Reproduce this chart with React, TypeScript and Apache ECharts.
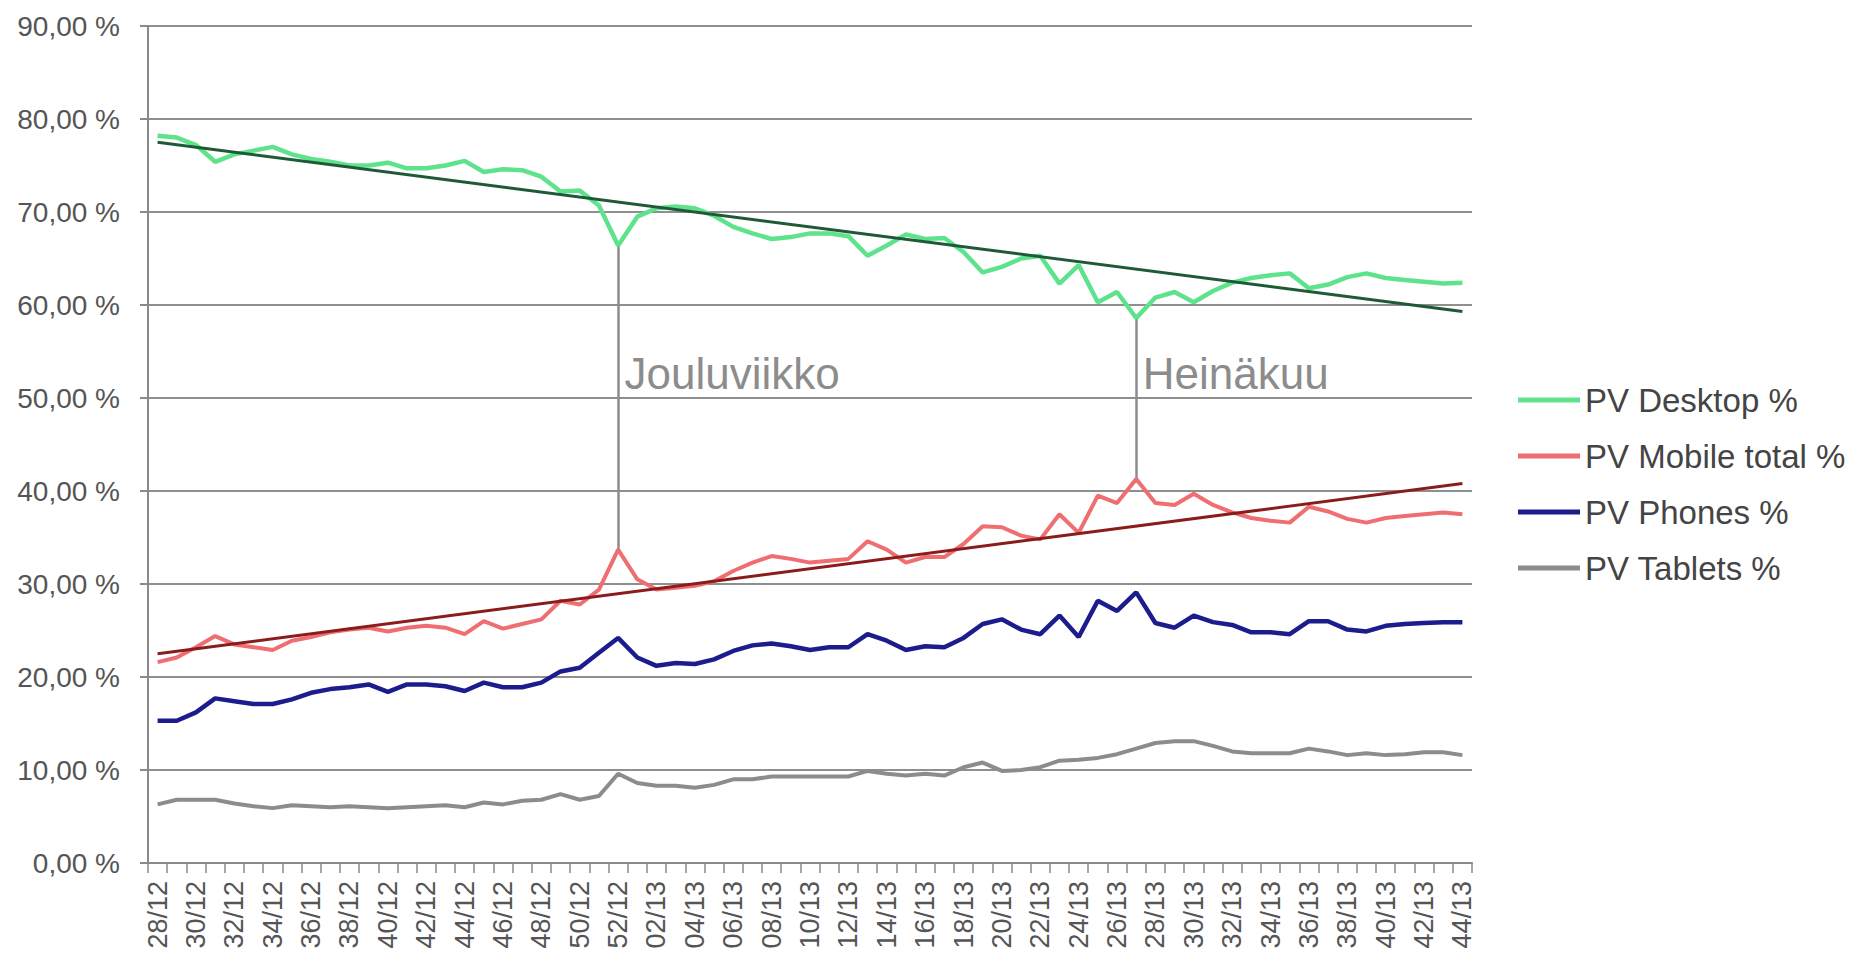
import React, { useEffect, useRef } from "react";
import * as echarts from "echarts";

const weeks: string[] = [
  "28/12", "29/12", "30/12", "31/12", "32/12", "33/12", "34/12", "35/12", "36/12", "37/12",
  "38/12", "39/12", "40/12", "41/12", "42/12", "43/12", "44/12", "45/12", "46/12", "47/12",
  "48/12", "49/12", "50/12", "51/12", "52/12",
  "01/13", "02/13", "03/13", "04/13", "05/13", "06/13", "07/13", "08/13", "09/13", "10/13",
  "11/13", "12/13", "13/13", "14/13", "15/13", "16/13", "17/13", "18/13", "19/13", "20/13",
  "21/13", "22/13", "23/13", "24/13", "25/13", "26/13", "27/13", "28/13", "29/13", "30/13",
  "31/13", "32/13", "33/13", "34/13", "35/13", "36/13", "37/13", "38/13", "39/13", "40/13",
  "41/13", "42/13", "43/13", "44/13",
];

const desktop: number[] = [
  78.2, 78.0, 77.2, 75.4, 76.2, 76.6, 77.0, 76.2, 75.7, 75.4,
  75.0, 75.0, 75.3, 74.7, 74.7, 75.0, 75.5, 74.3, 74.6, 74.5,
  73.8, 72.2, 72.3, 70.7, 66.4,
  69.5, 70.4, 70.6, 70.4, 69.6, 68.4, 67.7, 67.1, 67.3, 67.7,
  67.7, 67.4, 65.3, 66.4, 67.6, 67.1, 67.2, 65.7, 63.5, 64.1,
  65.0, 65.3, 62.3, 64.3, 60.3, 61.4, 58.6, 60.8, 61.4, 60.3,
  61.5, 62.4, 62.9, 63.2, 63.4, 61.8, 62.2, 63.0, 63.4, 62.9,
  62.7, 62.5, 62.3, 62.4,
];

const mobileTotal: number[] = [
  21.6, 22.1, 23.2, 24.4, 23.5, 23.2, 22.9, 23.9, 24.3, 24.8,
  25.1, 25.3, 24.9, 25.3, 25.5, 25.3, 24.6, 26.0, 25.2, 25.7,
  26.2, 28.2, 27.8, 29.4, 33.7,
  30.5, 29.4, 29.6, 29.8, 30.3, 31.4, 32.3, 33.0, 32.7, 32.3,
  32.5, 32.7, 34.6, 33.7, 32.3, 32.9, 32.9, 34.3, 36.2, 36.1,
  35.2, 34.8, 37.5, 35.5, 39.5, 38.7, 41.3, 38.7, 38.5, 39.7,
  38.5, 37.7, 37.1, 36.8, 36.6, 38.3, 37.8, 37.0, 36.6, 37.1,
  37.3, 37.5, 37.7, 37.5,
];

const phones: number[] = [
  15.3, 15.3, 16.2, 17.7, 17.4, 17.1, 17.1, 17.6, 18.3, 18.7,
  18.9, 19.2, 18.4, 19.2, 19.2, 19.0, 18.5, 19.4, 18.9, 18.9,
  19.4, 20.6, 21.0, 22.6, 24.2,
  22.1, 21.2, 21.5, 21.4, 21.9, 22.8, 23.4, 23.6, 23.3, 22.9,
  23.2, 23.2, 24.6, 23.9, 22.9, 23.3, 23.2, 24.2, 25.7, 26.2,
  25.1, 24.6, 26.6, 24.3, 28.2, 27.1, 29.1, 25.8, 25.3, 26.6,
  25.9, 25.6, 24.8, 24.8, 24.6, 26.0, 26.0, 25.1, 24.9, 25.5,
  25.7, 25.8, 25.9, 25.9,
];

const tablets: number[] = [
  6.3, 6.8, 6.8, 6.8, 6.4, 6.1, 5.9, 6.2, 6.1, 6.0,
  6.1, 6.0, 5.9, 6.0, 6.1, 6.2, 6.0, 6.5, 6.3, 6.7,
  6.8, 7.4, 6.8, 7.2, 9.6,
  8.6, 8.3, 8.3, 8.1, 8.4, 9.0, 9.0, 9.3, 9.3, 9.3,
  9.3, 9.3, 9.9, 9.6, 9.4, 9.6, 9.4, 10.3, 10.8, 9.9,
  10.0, 10.3, 11.0, 11.1, 11.3, 11.7, 12.3, 12.9, 13.1, 13.1,
  12.6, 12.0, 11.8, 11.8, 11.8, 12.3, 12.0, 11.6, 11.8, 11.6,
  11.7, 11.9, 11.9, 11.6,
];

// trend lines: values at first and last week
const desktopTrend: number[] = [77.5, 59.3];
const mobileTrend: number[] = [22.5, 40.8];

// annotations: week and label text, label height on the value axis
const annotations = [
  { week: "52/12", label: "Jouluviikko", labelValue: 52.6 },
  { week: "27/13", label: "Heinäkuu", labelValue: 52.6 },
];

const seriesNames = ["PV Desktop %", "PV Mobile total %", "PV Phones %", "PV Tablets %"];
const seriesColors = ["#5ee38c", "#ee6e72", "#1c1c8c", "#8c8c8c"];

const FONT = "'Liberation Sans', Arial, sans-serif";

export default function App() {
  const ref = useRef<HTMLDivElement>(null);

  useEffect(() => {
    document.body.style.margin = "0";
    if (!ref.current) return;
    const chart = echarts.init(ref.current, undefined, { renderer: "svg" });

    const first = weeks[0];
    const last = weeks[weeks.length - 1];

    const annLines = annotations.map((a) => {
      const idx = weeks.indexOf(a.week);
      return [
        { coord: [a.week, desktop[idx]] },
        { coord: [a.week, mobileTotal[idx]] },
      ];
    });
    const annPoints = annotations.map((a) => ({
      coord: [a.week, a.labelValue],
      label: { formatter: a.label },
    }));

    const option: any = {
      animation: false,
      backgroundColor: "#ffffff",
      grid: { left: 148, right: 387, top: 26, bottom: 94, containLabel: false },
      legend: {
        data: seriesNames,
        orient: "vertical",
        left: 1513,
        top: 377,
        icon: "rect",
        itemWidth: 62,
        itemHeight: 5,
        itemGap: 20,
        textStyle: { fontSize: 33, color: "#444", fontFamily: FONT, lineHeight: 36 },
      },
      xAxis: {
        type: "category",
        data: weeks,
        boundaryGap: true,
        axisLine: { show: true, lineStyle: { color: "#8a8a8a", width: 2 } },
        axisTick: { show: true, interval: 0, length: 10, lineStyle: { color: "#8a8a8a", width: 1.5 } },
        axisLabel: {
          interval: 1,
          rotate: 90,
          fontSize: 27,
          color: "#555",
          fontFamily: FONT,
          margin: 18,
        },
        splitLine: { show: false },
      },
      yAxis: {
        type: "value",
        min: 0,
        max: 90,
        interval: 10,
        axisLine: { show: true, lineStyle: { color: "#8a8a8a", width: 2 } },
        axisTick: { show: true, length: 8, lineStyle: { color: "#8a8a8a", width: 2 } },
        axisLabel: {
          fontSize: 28,
          color: "#555",
          fontFamily: FONT,
          margin: 28,
          formatter: (v: number) => v.toFixed(2).replace(".", ",") + " %",
        },
        splitLine: { show: true, lineStyle: { color: "#8f8f8f", width: 2 } },
      },
      series: [
        {
          name: seriesNames[0],
          type: "line",
          data: desktop,
          symbol: "none",
          lineStyle: { color: seriesColors[0], width: 4.5 },
          itemStyle: { color: seriesColors[0] },
          z: 3,
        },
        {
          name: seriesNames[1],
          type: "line",
          data: mobileTotal,
          symbol: "none",
          lineStyle: { color: seriesColors[1], width: 4 },
          itemStyle: { color: seriesColors[1] },
          z: 3,
          markLine: {
            silent: true,
            symbol: ["none", "none"],
            lineStyle: { color: "#8c8c8c", width: 2.5, type: "solid" },
            label: { show: false },
            data: annLines,
            z: 1,
          },
          markPoint: {
            silent: true,
            symbol: "circle",
            symbolSize: 1,
            itemStyle: { color: "rgba(0,0,0,0)" },
            label: {
              show: true,
              position: "right",
              distance: 6,
              fontSize: 44,
              color: "#8c8c8c",
              fontFamily: FONT,
            },
            data: annPoints,
          },
        },
        {
          name: seriesNames[2],
          type: "line",
          data: phones,
          symbol: "none",
          lineStyle: { color: seriesColors[2], width: 4.5 },
          itemStyle: { color: seriesColors[2] },
          z: 3,
        },
        {
          name: seriesNames[3],
          type: "line",
          data: tablets,
          symbol: "none",
          lineStyle: { color: seriesColors[3], width: 4 },
          itemStyle: { color: seriesColors[3] },
          z: 3,
        },
        {
          name: "Desktop trend",
          type: "line",
          data: [[first, desktopTrend[0]], [last, desktopTrend[1]]],
          symbol: "none",
          lineStyle: { color: "#1f5a38", width: 3 },
          z: 4,
        },
        {
          name: "Mobile trend",
          type: "line",
          data: [[first, mobileTrend[0]], [last, mobileTrend[1]]],
          symbol: "none",
          lineStyle: { color: "#8a1c1c", width: 3 },
          z: 4,
        },
      ],
    };

    chart.setOption(option);
    return () => {
      chart.dispose();
    };
  }, []);

  return (
    <div
      ref={ref}
      style={{ position: "fixed", left: 0, top: 0, width: 1859, height: 957 }}
    />
  );
}
